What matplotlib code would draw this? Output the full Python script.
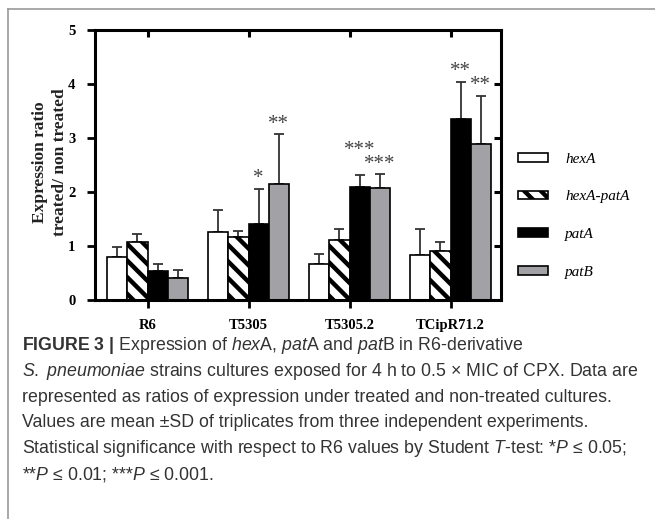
import matplotlib
matplotlib.use("Agg")
import matplotlib.pyplot as plt
import numpy as np
from matplotlib.lines import Line2D

plt.rcParams['mathtext.fontset'] = 'custom'
plt.rcParams['mathtext.rm'] = 'Liberation Sans'
plt.rcParams['mathtext.it'] = 'Liberation Sans:italic'
plt.rcParams['mathtext.bf'] = 'Liberation Sans:bold'
plt.rcParams['hatch.linewidth'] = 3.2

# ---------------- data ----------------
strains = ["R6", "T5305", "T5305.2", "TCipR71.2"]
genes = ["hexA", "hexA-patA", "patA", "patB"]
hexA_mean = [0.80, 1.26, 0.66, 0.83]
hexA_sd = [0.18, 0.40, 0.20, 0.48]
hexApatA_mean = [1.07, 1.16, 1.12, 0.91]
hexApatA_sd = [0.16, 0.11, 0.20, 0.16]
patA_mean = [0.54, 1.41, 2.09, 3.36]
patA_sd = [0.12, 0.65, 0.22, 0.68]
patB_mean = [0.40, 2.15, 2.08, 2.88]
patB_sd = [0.16, 0.92, 0.25, 0.90]
patA_stars = ["", "*", "***", "**"]
patB_stars = ["", "**", "***", "**"]
yticks = [0, 1, 2, 3, 4, 5]

means = [hexA_mean, hexApatA_mean, patA_mean, patB_mean]
sds = [hexA_sd, hexApatA_sd, patA_sd, patB_sd]
facecolors = ["white", "white", "black", "#a2a2a6"]
hatches = [None, "\\\\", None, None]

fig = plt.figure(figsize=(6.55, 5.19), dpi=100)
ax_w_px, ax_h_px = 501 - 95, 270
ax = fig.add_axes([95/655, 1-300/519, ax_w_px/655, ax_h_px/519])

x = np.arange(len(strains))
w = 0.2
serif = "Liberation Serif"
for i in range(4):
    pos = x + (i - 1.5) * w
    ax.bar(pos, means[i], width=w, color=facecolors[i], edgecolor="black",
           linewidth=1.2, hatch=hatches[i], label=genes[i], zorder=2)
    ax.errorbar(pos, means[i], yerr=[np.zeros(4), sds[i]], fmt="none",
                ecolor="#333333", elinewidth=1.3, capsize=3.6, capthick=1.3, zorder=1)

# significance stars
for j in range(4):
    for i, stars in ((2, patA_stars[j]), (3, patB_stars[j])):
        if not stars:
            continue
        pos = x[j] + (i - 1.5) * w
        top = means[i][j] + sds[i][j]
        lift = 0.0
        if i == 2 and stars == patB_stars[j] and abs(top - (means[3][j] + sds[3][j])) < 0.2:
            lift = 0.28
        ax.text(pos, top + 0.01 + lift, stars, ha="center", va="bottom",
                fontsize=15, family=serif, color="#444444")

xlim = (-0.52, 3.5)
ax.set_xlim(*xlim)
ax.set_ylim(0, 5)
ax.set_yticks(yticks)
ax.set_yticklabels([str(t) for t in yticks], fontsize=10.5, fontweight="bold", family=serif)
ax.set_xticks(x)
ax.set_xticklabels(strains, fontsize=10.5, fontweight="bold", family=serif)
ax.tick_params(axis="y", direction="out", length=6, width=2, pad=8)
ax.tick_params(axis="x", direction="out", length=6, width=2, pad=8)
for s in ax.spines.values():
    s.set_linewidth(2.2)

# mirrored inward ticks on the top and right spines
tick_px = 7
ax.vlines(x, 1 - tick_px/ax_h_px, 1, transform=ax.get_xaxis_transform(),
          colors="black", linewidth=2.2, clip_on=False, zorder=6)
ax.hlines(yticks[1:-1], 1 - tick_px/ax_w_px, 1, transform=ax.get_yaxis_transform(),
          colors="black", linewidth=2.2, clip_on=False, zorder=6)

fig.text(50/655, 1-162/519, "Expression ratio\ntreated/ non treated", rotation=90,
         ha="center", va="center", fontsize=12.5, fontweight="bold", family=serif,
         linespacing=1.35, color="#222222")

leg = ax.legend(loc="upper left", bbox_to_anchor=(510/655, 1-145/519),
                bbox_transform=fig.transFigure, frameon=False,
                prop={"family": serif, "style": "italic", "size": 11},
                handlelength=2.0, handleheight=0.5, handletextpad=1.1,
                labelspacing=1.62, borderpad=0)

# outer frame of the figure panel
fig.add_artist(Line2D([8/655, 1], [1-9/519, 1-9/519], transform=fig.transFigure,
                      color="#9a9a9a", lw=1.2))
fig.add_artist(Line2D([8/655, 8/655], [0, 1-9/519], transform=fig.transFigure,
                      color="#9a9a9a", lw=1.2))

caption = [
    r"$\mathbf{FIGURE\ 3\ |}$ Expression of $\mathit{hex}$A, $\mathit{pat}$A and $\mathit{pat}$B in R6-derivative",
    r"$\mathit{S.\ pneumoniae}$ strains cultures exposed for 4 h to 0.5 × MIC of CPX. Data are",
    "represented as ratios of expression under treated and non-treated cultures.",
    "Values are mean ±SD of triplicates from three independent experiments.",
    r"Statistical significance with respect to R6 values by Student $\mathit{T}$-test: *$\mathit{P}$ ≤ 0.05;",
    r"**$\mathit{P}$ ≤ 0.01; ***$\mathit{P}$ ≤ 0.001.",
]
for k, line in enumerate(caption):
    fig.text(22/655, 1-(346 + k*25.6)/519, line, ha="left", va="center",
             fontsize=12.8, family="Liberation Sans", color="#333333")

fig.savefig("out.png", dpi=100)
